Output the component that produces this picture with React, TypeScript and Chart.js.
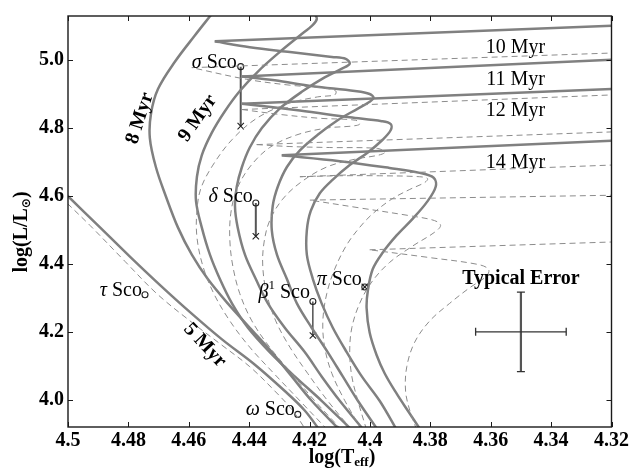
import React, { useEffect, useRef } from 'react';
import { Chart, registerables } from 'chart.js';

Chart.register(...registerables);

// ---------- axis ticks ----------
const xTickValues = [4.5, 4.48, 4.46, 4.44, 4.42, 4.4, 4.38, 4.36, 4.34, 4.32];
const yTickValues = [4.0, 4.2, 4.4, 4.6, 4.8, 5.0];

// ---------- solid isochrones (main sequence + hook) ----------
const iso5Teff = [4.5026, 4.5, 4.4894, 4.4795, 4.4696, 4.4596, 4.449, 4.4381, 4.4282, 4.4216, 4.416];
const iso5LogL = [4.6218, 4.5989, 4.5072, 4.4212, 4.3381, 4.2579, 4.1777, 4.1032, 4.0258, 3.9685, 3.9026];

const iso8Teff = [4.41, 4.4193, 4.4259, 4.4325, 4.4398, 4.4471, 4.4537, 4.459, 4.4636, 4.4676, 4.4709, 4.4729, 4.4725, 4.4702, 4.4646, 4.458, 4.4524];
const iso8LogL = [3.9112, 3.9971, 4.0688, 4.1404, 4.212, 4.2837, 4.3553, 4.4269, 4.5072, 4.5989, 4.6848, 4.7708, 4.8424, 4.914, 4.9943, 5.0716, 5.1347];

const iso9Teff = [4.406, 4.416, 4.4249, 4.4332, 4.4404, 4.4457, 4.4497, 4.453, 4.4557, 4.4576, 4.4573, 4.4557, 4.4524, 4.4481, 4.4431, 4.4371, 4.4299, 4.4232, 4.4189, 4.4176, 4.4183, 4.4193];
const iso9LogL = [3.9112, 3.9971, 4.0688, 4.1404, 4.212, 4.2837, 4.3553, 4.4269, 4.5072, 4.5845, 4.6562, 4.7192, 4.7851, 4.8481, 4.9083, 4.9656, 5.0229, 5.0716, 5.1032, 5.1203, 5.1347, 5.1433];

const iso10Teff = [4.4021, 4.41, 4.416, 4.4216, 4.4282, 4.4338, 4.4378, 4.4414, 4.4438, 4.4447, 4.4441, 4.4424, 4.4398, 4.4358, 4.4299, 4.4222, 4.415, 4.4093, 4.4067, 4.408, 4.4126, 4.4265, 4.4398, 4.4514];
const iso10LogL = [3.9112, 3.9971, 4.0688, 4.1404, 4.212, 4.2837, 4.3553, 4.4269, 4.5072, 4.5702, 4.6275, 4.6848, 4.7421, 4.7994, 4.8567, 4.9083, 4.9484, 4.9742, 4.9885, 5.0029, 5.0086, 5.0229, 5.0372, 5.0544];

const iso11Teff = [4.3974, 4.404, 4.409, 4.414, 4.4193, 4.4242, 4.4275, 4.4308, 4.4325, 4.4322, 4.4305, 4.4275, 4.4232, 4.4173, 4.4107, 4.404, 4.4001, 4.3988, 4.4001, 4.405, 4.4189, 4.4315, 4.4424];
const iso11LogL = [3.9112, 3.9971, 4.0688, 4.1404, 4.212, 4.2837, 4.3553, 4.4269, 4.4986, 4.5702, 4.6275, 4.6848, 4.7335, 4.7794, 4.8223, 4.8567, 4.8768, 4.8883, 4.8997, 4.9083, 4.9226, 4.9398, 4.9513];

const iso12Teff = [4.3911, 4.3968, 4.4027, 4.4077, 4.4123, 4.416, 4.4189, 4.4209, 4.4209, 4.4196, 4.4166, 4.4123, 4.4067, 4.4007, 4.3958, 4.3931, 4.3931, 4.3961, 4.4067, 4.4232, 4.4424];
const iso12LogL = [3.9112, 3.9971, 4.0688, 4.1404, 4.212, 4.2837, 4.3553, 4.4269, 4.4986, 4.5559, 4.6074, 4.6476, 4.6905, 4.7278, 4.765, 4.7937, 4.8109, 4.8195, 4.8309, 4.851, 4.8711];

const iso14Teff = [4.3832, 4.3875, 4.3911, 4.3951, 4.3978, 4.4001, 4.4011, 4.4007, 4.3991, 4.3958, 4.3911, 4.3858, 4.3809, 4.3782, 4.3789, 4.3835, 4.3935, 4.41, 4.4292];
const iso14LogL = [3.9112, 3.9685, 4.0172, 4.0774, 4.1318, 4.1977, 4.2693, 4.3209, 4.384, 4.4327, 4.4842, 4.533, 4.5845, 4.6275, 4.6533, 4.6676, 4.6819, 4.702, 4.7192];

// solid Hertzsprung-gap branches
const gap10Teff = [4.4514, 4.32];
const gap10LogL = [5.0544, 5.1003];
const gap11Teff = [4.4424, 4.32];
const gap11LogL = [4.9513, 5.0];
const gap12Teff = [4.4424, 4.32];
const gap12LogL = [4.8711, 4.914];
const gap14Teff = [4.4292, 4.32];
const gap14LogL = [4.7192, 4.7622];

// ---------- dashed isochrones ----------
const dash5Teff = [4.5026, 4.5, 4.4927, 4.4811, 4.4706, 4.4596, 4.449, 4.4398, 4.4315, 4.4256, 4.4206];
const dash5LogL = [4.5989, 4.5759, 4.5129, 4.4069, 4.3123, 4.2321, 4.1605, 4.0974, 4.0258, 3.9685, 3.9026];

const dash9Teff = [4.414, 4.4232, 4.4318, 4.4398, 4.4464, 4.4517, 4.4553, 4.4573, 4.4573, 4.456, 4.452, 4.4457, 4.4375, 4.4272, 4.4173, 4.4117, 4.4113, 4.415, 4.4265, 4.4408, 4.459];
const dash9LogL = [3.9112, 3.9971, 4.0774, 4.1547, 4.2321, 4.3123, 4.3926, 4.4785, 4.5559, 4.6218, 4.6905, 4.765, 4.8281, 4.8711, 4.8911, 4.8968, 4.9083, 4.9169, 4.9255, 4.9427, 4.9771];

const dash10Teff = [4.4093, 4.4183, 4.4259, 4.4332, 4.4391, 4.4431, 4.4454, 4.4464, 4.4461, 4.4441, 4.4398, 4.4332, 4.4242, 4.4143, 4.406, 4.4034, 4.4047, 4.4166, 4.4299, 4.4424];
const dash10LogL = [3.9112, 3.9971, 4.0774, 4.1547, 4.2321, 4.3123, 4.3926, 4.4699, 4.5473, 4.6189, 4.6848, 4.7421, 4.7794, 4.7994, 4.8052, 4.8109, 4.8223, 4.8281, 4.8395, 4.8539];

const dash11Teff = [4.406, 4.414, 4.4206, 4.4265, 4.4312, 4.4342, 4.4355, 4.4351, 4.4332, 4.4289, 4.4226, 4.4143, 4.405, 4.3974, 4.3951, 4.3974, 4.4133, 4.4265, 4.4375];
const dash11LogL = [3.9112, 3.9971, 4.0774, 4.1547, 4.2321, 4.3123, 4.3926, 4.4613, 4.5272, 4.5903, 4.6418, 4.6848, 4.7077, 4.7192, 4.7278, 4.7393, 4.7421, 4.745, 4.7507];

const dash12Teff = [4.4027, 4.4083, 4.4126, 4.415, 4.4156, 4.4143, 4.4117, 4.4077, 4.4034, 4.3991, 4.3928, 4.3868, 4.3819, 4.3809, 4.3835, 4.3968, 4.41, 4.4232];
const dash12LogL = [3.9112, 3.9971, 4.0774, 4.1547, 4.2321, 4.3123, 4.384, 4.4556, 4.5072, 4.5473, 4.5903, 4.6189, 4.639, 4.6504, 4.6562, 4.659, 4.659, 4.6562];

const dash13Teff = [4.4011, 4.404, 4.406, 4.4067, 4.406, 4.4034, 4.3994, 4.3935, 4.3858, 4.3786, 4.3766, 4.3786, 4.3868, 4.4034, 4.4199];
const dash13LogL = [3.9112, 3.9971, 4.0688, 4.1404, 4.212, 4.2837, 4.3467, 4.404, 4.4527, 4.4928, 4.5129, 4.5272, 4.5415, 4.5645, 4.5874];

const dash14Teff = [4.3845, 4.3868, 4.3882, 4.3878, 4.3852, 4.3802, 4.3736, 4.367, 4.3614, 4.3607, 4.3643, 4.3802, 4.4001];
const dash14LogL = [3.9112, 3.9685, 4.0258, 4.0974, 4.1691, 4.2321, 4.2837, 4.3295, 4.3639, 4.384, 4.3983, 4.4183, 4.4413];

// dashed Hertzsprung-gap branches
const dgap9Teff = [4.459, 4.32];
const dgap9LogL = [4.9771, 5.0201];
const dgap10Teff = [4.4424, 4.32];
const dgap10LogL = [4.8539, 4.8968];
const dgap11Teff = [4.4375, 4.32];
const dgap11LogL = [4.7507, 4.788];
const dgap12Teff = [4.4232, 4.32];
const dgap12LogL = [4.6562, 4.6905];
const dgap13Teff = [4.4199, 4.32];
const dgap13LogL = [4.5874, 4.6017];
const dgap14Teff = [4.4001, 4.32];
const dgap14LogL = [4.4413, 4.4642];

// ---------- stars ----------
const starGreek = ['σ', 'δ', 'β', 'π', 'τ', 'ω'];
const starSup = ['', '', '1', '', '', ''];
const starTeff = [4.4428, 4.4378, 4.4189, 4.4017, 4.4745, 4.4239];
const starLogLObs = [4.98, 4.579, 4.289, 4.332, 4.309, 3.957];
const starLogLModel = [4.805, 4.481, 4.189, 4.332, null, null];

// ---------- typical error ----------
const errTeff = 4.35;
const errLogL = 4.2;
const errTeffHalf = 0.015;
const errLogLHalf = 0.117;

// ---------- isochrone labels ----------
const isoLabelText = ['5 Myr', '8 Myr', '9 Myr', '10 Myr', '11 Myr', '12 Myr', '14 Myr'];
const isoLabelTeff = [4.4547, 4.4762, 4.457, 4.3518, 4.3518, 4.3518, 4.3518];
const isoLabelLogL = [4.1605, 4.8281, 4.8281, 5.0344, 4.9427, 4.851, 4.6963];

const SERIF = '"Liberation Serif", "DejaVu Serif", serif';
const labelStyle = [
  { angle: 47, bold: true },
  { angle: -72, bold: true },
  { angle: -55, bold: true },
  { angle: 0, bold: false },
  { angle: 0, bold: false },
  { angle: 0, bold: false },
  { angle: 0, bold: false },
];
const starLabelOffset = [
  [-4, 1], [-3, -1], [-3, -4], [-3, -2], [-3, 1], [-3, 1],
];

const pts = (t: number[], l: number[]) => t.map((x, i) => ({ x, y: l[i] }));

const solid = (t: number[], l: number[], tension = 0.35) => ({
  data: pts(t, l),
  showLine: true,
  borderColor: '#808080',
  borderWidth: 2.5,
  pointRadius: 0,
  tension,
  clip: 0,
  fill: false,
});
const dashed = (t: number[], l: number[], tension = 0.35) => ({
  data: pts(t, l),
  showLine: true,
  borderColor: '#8c8c8c',
  borderWidth: 1,
  borderDash: [6, 4],
  pointRadius: 0,
  tension,
  clip: 0,
  fill: false,
});

function drawRich(ctx: CanvasRenderingContext2D, parts: any[], x: number, y: number, align: 'center' | 'right') {
  let total = 0;
  for (const p of parts) {
    ctx.font = p.f;
    total += ctx.measureText(p.t).width;
  }
  let cx = align === 'center' ? x - total / 2 : x - total;
  ctx.textAlign = 'left';
  for (const p of parts) {
    ctx.font = p.f;
    ctx.fillText(p.t, cx, y + (p.dy || 0));
    cx += ctx.measureText(p.t).width;
  }
}

const framePlugin = {
  id: 'frameTicks',
  afterDraw(chart: any) {
    const { ctx, chartArea: a, scales } = chart;
    ctx.save();
    ctx.strokeStyle = '#1a1a1a';
    ctx.lineWidth = 1;
    ctx.beginPath();
    const L = 5;
    for (const v of xTickValues) {
      const px = Math.round(scales.x.getPixelForValue(v)) + 0.5;
      ctx.moveTo(px, a.bottom); ctx.lineTo(px, a.bottom - L);
      ctx.moveTo(px, a.top); ctx.lineTo(px, a.top + L);
    }
    for (const v of yTickValues) {
      const py = Math.round(scales.y.getPixelForValue(v)) + 0.5;
      ctx.moveTo(a.left, py); ctx.lineTo(a.left + L, py);
      ctx.moveTo(a.right, py); ctx.lineTo(a.right - L, py);
    }
    ctx.stroke();
    ctx.lineWidth = 1.4;
    ctx.strokeRect(a.left, a.top, a.right - a.left, a.bottom - a.top);
    ctx.restore();
  },
};

const textPlugin = {
  id: 'texts',
  afterDatasetsDraw(chart: any) {
    const { ctx, scales } = chart;
    const X = (v: number) => scales.x.getPixelForValue(v);
    const Y = (v: number) => scales.y.getPixelForValue(v);
    ctx.save();
    ctx.fillStyle = '#000';
    // isochrone labels
    isoLabelText.forEach((txt, i) => {
      const st = labelStyle[i];
      ctx.save();
      ctx.translate(X(isoLabelTeff[i]), Y(isoLabelLogL[i]));
      ctx.rotate((st.angle * Math.PI) / 180);
      ctx.font = `${st.bold ? 'bold ' : ''}20px ${SERIF}`;
      ctx.textAlign = 'center';
      ctx.textBaseline = 'middle';
      ctx.fillText(txt, 0, 0);
      ctx.restore();
    });
    // star labels
    ctx.textBaseline = 'alphabetic';
    starGreek.forEach((g, i) => {
      const cx = X(starTeff[i]);
      const cy = Y(starLogLObs[i]);
      const [dx, dy] = starLabelOffset[i];
      const parts: any[] = [{ t: g, f: `italic 20px ${SERIF}` }];
      if (starSup[i]) parts.push({ t: starSup[i], f: `13px ${SERIF}`, dy: -9 });
      parts.push({ t: ' Sco', f: `20px ${SERIF}` });
      drawRich(ctx, parts, cx + dx, cy + dy, 'right');
    });
    // typical error
    ctx.font = `bold 20px ${SERIF}`;
    ctx.textAlign = 'center';
    ctx.textBaseline = 'middle';
    ctx.fillText('Typical Error', X(errTeff), Y(4.3553));
    // axis titles
    ctx.textBaseline = 'middle';
    drawRich(
      ctx,
      [
        { t: 'log(T', f: `bold 20px ${SERIF}` },
        { t: 'eff', f: `bold 13px ${SERIF}`, dy: 5 },
        { t: ')', f: `bold 20px ${SERIF}` },
      ],
      342,
      458,
      'center'
    );
    ctx.save();
    ctx.translate(22, 232);
    ctx.rotate(-Math.PI / 2);
    drawRich(
      ctx,
      [
        { t: 'log(L/L', f: `bold 20px ${SERIF}` },
        { t: '⊙', f: `bold 12px "DejaVu Sans", sans-serif`, dy: 5 },
        { t: ')', f: `bold 20px ${SERIF}` },
      ],
      0,
      0,
      'center'
    );
    ctx.restore();
    ctx.restore();
  },
};

function buildDatasets() {
  const ds: any[] = [
    dashed(dash5Teff, dash5LogL),
    dashed(dash9Teff, dash9LogL),
    dashed(dash10Teff, dash10LogL),
    dashed(dash11Teff, dash11LogL),
    dashed(dash12Teff, dash12LogL),
    dashed(dash13Teff, dash13LogL),
    dashed(dash14Teff, dash14LogL),
    dashed(dgap9Teff, dgap9LogL, 0),
    dashed(dgap10Teff, dgap10LogL, 0),
    dashed(dgap11Teff, dgap11LogL, 0),
    dashed(dgap12Teff, dgap12LogL, 0),
    dashed(dgap13Teff, dgap13LogL, 0),
    dashed(dgap14Teff, dgap14LogL, 0),
    solid(iso5Teff, iso5LogL),
    solid(iso8Teff, iso8LogL),
    solid(iso9Teff, iso9LogL),
    solid(iso10Teff, iso10LogL),
    solid(iso11Teff, iso11LogL),
    solid(iso12Teff, iso12LogL),
    solid(iso14Teff, iso14LogL),
    solid(gap10Teff, gap10LogL, 0),
    solid(gap11Teff, gap11LogL, 0),
    solid(gap12Teff, gap12LogL, 0),
    solid(gap14Teff, gap14LogL, 0),
  ];
  // typical error bars
  ds.push({
    data: [{ x: errTeff + errTeffHalf, y: errLogL }, { x: errTeff - errTeffHalf, y: errLogL }],
    showLine: true, borderColor: '#333', borderWidth: 1.3,
    pointStyle: 'line', pointRotation: 90, pointRadius: 4,
    pointBorderColor: '#333', pointBorderWidth: 1.3,
  });
  ds.push({
    data: [{ x: errTeff, y: errLogL - errLogLHalf }, { x: errTeff, y: errLogL + errLogLHalf }],
    showLine: true, borderColor: '#555', borderWidth: 2.2,
    pointStyle: 'line', pointRotation: 0, pointRadius: 4,
    pointBorderColor: '#333', pointBorderWidth: 1.3,
  });
  // stars
  starTeff.forEach((t, i) => {
    const m = starLogLModel[i];
    const data: any[] = [{ x: t, y: starLogLObs[i] }];
    const styles: any[] = ['circle'];
    const radii: number[] = [3];
    if (m !== null) {
      data.push({ x: t, y: m });
      styles.push('crossRot');
      radii.push(4.5);
    }
    ds.push({
      data,
      showLine: m !== null,
      borderColor: i < 2 ? '#555' : '#111',
      borderWidth: i < 2 ? 2 : 1.1,
      pointStyle: styles,
      pointRadius: radii,
      pointBorderColor: '#222',
      pointBackgroundColor: 'rgba(255,255,255,0)',
      pointBorderWidth: 1.1,
    });
  });
  return ds;
}

export default function App() {
  const ref = useRef<HTMLCanvasElement | null>(null);
  useEffect(() => {
    const tickFont = { family: SERIF, size: 20, weight: 'bold' as const };
    const chart = new Chart(ref.current as HTMLCanvasElement, {
      type: 'scatter',
      data: { datasets: buildDatasets() },
      options: {
        responsive: false,
        animation: false,
        events: [],
        layout: { padding: { top: 5, right: 19, left: 0, bottom: 0 } },
        plugins: { legend: { display: false }, tooltip: { enabled: false } },
        scales: {
          x: {
            type: 'linear',
            min: 4.32,
            max: 4.5,
            reverse: true,
            grid: { display: false, drawTicks: false },
            border: { display: false },
            ticks: {
              font: tickFont,
              color: '#000',
              padding: 2,
              maxRotation: 0,
              autoSkip: false,
              callback: (v: any) => `${+Number(v).toFixed(2)}`,
            },
            afterBuildTicks: (s: any) => {
              s.ticks = xTickValues.map((v) => ({ value: v }));
            },
            afterFit: (s: any) => {
              s.height = 48;
            },
          },
          y: {
            type: 'linear',
            min: 3.92,
            max: 5.129,
            grid: { display: false, drawTicks: false },
            border: { display: false },
            ticks: {
              font: tickFont,
              color: '#000',
              padding: 4,
              autoSkip: false,
              callback: (v: any) => Number(v).toFixed(1),
            },
            afterBuildTicks: (s: any) => {
              s.ticks = yTickValues.map((v) => ({ value: v }));
            },
            afterFit: (s: any) => {
              s.width = 68;
            },
          },
        },
      },
      plugins: [textPlugin, framePlugin],
    } as any);
    return () => chart.destroy();
  }, []);
  return (
    <div style={{ position: 'fixed', left: 0, top: 0, width: 631, height: 475, background: '#fff' }}>
      <canvas ref={ref} width={631} height={475} style={{ display: 'block', width: 631, height: 475 }} />
    </div>
  );
}
